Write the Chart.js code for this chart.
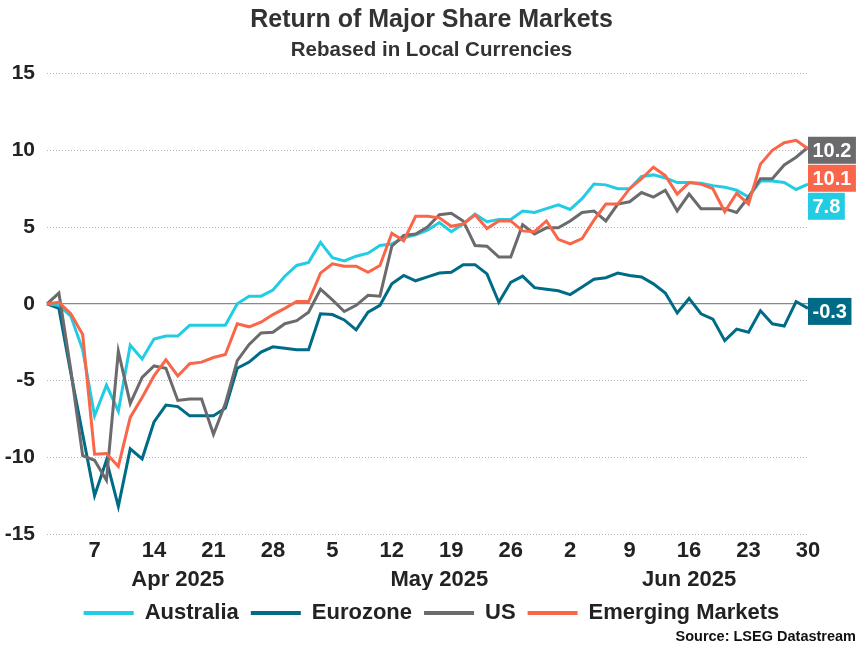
<!DOCTYPE html>
<html>
<head>
<meta charset="utf-8">
<script src="https://cdn.jsdelivr.net/npm/chart.js@4.4.1/dist/chart.umd.min.js"></script>
<style>
  html, body { margin: 0; padding: 0; background: #fff; }
  #wrap { width: 863px; height: 646px; }
</style>
</head>
<body>
<div id="wrap"><canvas id="chart"></canvas></div>
<script>
const dates = [
  '2025-04-01','2025-04-02','2025-04-03','2025-04-04','2025-04-07','2025-04-08','2025-04-09','2025-04-10','2025-04-11',
  '2025-04-14','2025-04-15','2025-04-16','2025-04-17','2025-04-18','2025-04-21','2025-04-22','2025-04-23','2025-04-24',
  '2025-04-25','2025-04-28','2025-04-29','2025-04-30',
  '2025-05-01','2025-05-02','2025-05-05','2025-05-06','2025-05-07','2025-05-08','2025-05-09','2025-05-12','2025-05-13',
  '2025-05-14','2025-05-15','2025-05-16','2025-05-19','2025-05-20','2025-05-21','2025-05-22','2025-05-23','2025-05-26',
  '2025-05-27','2025-05-28','2025-05-29','2025-05-30',
  '2025-06-02','2025-06-03','2025-06-04','2025-06-05','2025-06-06','2025-06-09','2025-06-10','2025-06-11','2025-06-12',
  '2025-06-13','2025-06-16','2025-06-17','2025-06-18','2025-06-19','2025-06-20','2025-06-23','2025-06-24','2025-06-25',
  '2025-06-26','2025-06-27','2025-06-30'
];
const tickDates = ['2025-04-07','2025-04-14','2025-04-21','2025-04-28','2025-05-05','2025-05-12','2025-05-19',
  '2025-05-26','2025-06-02','2025-06-09','2025-06-16','2025-06-23','2025-06-30'];
const monthLabels = ['Apr 2025', 'May 2025', 'Jun 2025'];
const monthLabelDates = ['2025-04-16', '2025-05-16', '2025-06-16'];

const seriesNames = ['Australia', 'Eurozone', 'US', 'Emerging Markets'];
const australia = [0, -0.1, -0.8, -3.0, -7.3, -5.3, -7.0, -2.7, -3.6, -2.3, -2.1, -2.1, -1.4, -1.4, -1.4, -1.4,
  0.0, 0.5, 0.5, 0.9, 1.8, 2.5, 2.7, 4.0, 3.0, 2.8, 3.1, 3.3, 3.8, 3.9, 4.3, 4.5, 4.8, 5.3, 4.7, 5.2, 5.85,
  5.35, 5.5, 5.5, 6.05, 5.95, 6.2, 6.45, 6.15, 6.85, 7.8, 7.75, 7.5, 7.5, 8.3, 8.4, 8.2, 7.9, 7.9, 7.85, 7.7,
  7.6, 7.4, 6.95, 8.0, 8.0, 7.9, 7.45, 7.8];
const eurozone = [0, -0.3, -4.5, -8.5, -12.5, -10.2, -13.2, -9.45, -10.1, -7.7, -6.6, -6.7, -7.3, -7.3, -7.3, -6.8,
  -4.2, -3.8, -3.15, -2.8, -2.9, -3.0, -3.0, -0.65, -0.7, -1.05, -1.7, -0.55, -0.1, 1.3, 1.85, 1.5, 1.75, 2.0,
  2.05, 2.55, 2.55, 1.95, 0.1, 1.4, 1.8, 1.05, 0.95, 0.85, 0.6, 1.1, 1.6, 1.7, 2.0, 1.85, 1.75, 1.3, 0.7, -0.6,
  0.35, -0.65, -1.0, -2.4, -1.65, -1.85, -0.45, -1.3, -1.45, 0.15, -0.3];
const us = [0, 0.7, -4.3, -9.9, -10.2, -11.5, -3.1, -6.5, -4.8, -4.05, -4.2, -6.3, -6.2, -6.2, -8.5, -6.5,
  -3.7, -2.65, -1.9, -1.85, -1.3, -1.1, -0.55, 0.95, 0.25, -0.5, -0.1, 0.55, 0.5, 3.75, 4.45, 4.55, 5.0, 5.8,
  5.9, 5.4, 3.8, 3.75, 3.05, 3.05, 5.15, 4.55, 4.95, 4.95, 5.4, 5.95, 6.05, 5.4, 6.5, 6.65, 7.25, 6.95, 7.4,
  6.05, 7.15, 6.2, 6.2, 6.2, 5.95, 6.95, 8.15, 8.15, 9.05, 9.55, 10.2];
const emerging = [0, 0.1, -0.65, -2.0, -9.8, -9.75, -10.6, -7.4, -6.1, -4.7, -3.65, -4.7, -3.9, -3.8, -3.5, -3.3,
  -1.3, -1.5, -1.2, -0.7, -0.3, 0.15, 0.15, 2.0, 2.6, 2.45, 2.45, 2.05, 2.5, 4.6, 4.1, 5.7, 5.7, 5.6, 5.05,
  5.2, 5.8, 4.9, 5.4, 5.4, 4.75, 4.7, 5.4, 4.2, 3.9, 4.25, 5.45, 6.5, 6.5, 7.5, 8.15, 8.9, 8.35, 7.15, 7.9,
  7.8, 7.5, 6.0, 7.2, 6.5, 9.1, 10.0, 10.5, 10.65, 10.1];

const colours = ['#22CCE2', '#006B87', '#6B6B6E', '#F9664A'];
const FONT = '"Liberation Sans", Arial, sans-serif';

Chart.defaults.font.family = FONT;
Chart.defaults.color = '#222';

// boxes with the last value at the right end of each line
const endLabels = {
  id: 'endLabels',
  afterDatasetsDraw(chart) {
    const { ctx, chartArea, scales } = chart;
    const items = chart.data.datasets.map(ds => {
      const v = ds.data[ds.data.length - 1];
      return { v, color: ds.borderColor, y: scales.y.getPixelForValue(v) };
    }).sort((a, b) => a.y - b.y);
    const h = 27;
    let prev = -1e9;
    ctx.save();
    ctx.font = 'bold 20px ' + FONT;
    ctx.textBaseline = 'middle';
    items.forEach(it => {
      const y = Math.max(it.y + 3, prev + h + 1);
      prev = y;
      const txt = it.v.toFixed(1);
      const w = ctx.measureText(txt).width + 9;
      ctx.fillStyle = it.color;
      ctx.fillRect(chartArea.right, y - h / 2, w, h);
      ctx.fillStyle = '#fff';
      ctx.fillText(txt, chartArea.right + 4.5, y + 1);
    });
    ctx.restore();
  },
  afterDraw(chart) {
    const { ctx } = chart;
    ctx.save();
    ctx.font = 'bold 14.5px ' + FONT;
    ctx.fillStyle = '#111';
    ctx.textAlign = 'right';
    ctx.textBaseline = 'middle';
    ctx.fillText('Source: LSEG Datastream', 856, 637);
    ctx.restore();
  }
};

const allSeries = [australia, eurozone, us, emerging];
const drawOrder = [2, 3, 1, 0];

new Chart(document.getElementById('chart'), {
  type: 'line',
  data: {
    labels: dates,
    datasets: allSeries.map((vals, i) => ({
      label: seriesNames[i],
      data: vals,
      borderColor: colours[i],
      backgroundColor: colours[i],
      borderWidth: 3,
      pointRadius: 0,
      tension: 0,
      order: drawOrder[i]
    }))
  },
  options: {
    responsive: true,
    maintainAspectRatio: false,
    animation: false,
    layout: { padding: { left: 0, right: 0, top: 0, bottom: 12 } },
    plugins: {
      title: {
        display: true,
        text: 'Return of Major Share Markets',
        font: { size: 25, weight: 'bold' },
        color: '#333',
        padding: { top: 5, bottom: 2 }
      },
      subtitle: {
        display: true,
        text: 'Rebased in Local Currencies',
        font: { size: 20.5, weight: 'bold' },
        color: '#333',
        padding: { top: 1, bottom: 11 }
      },
      legend: {
        position: 'bottom',
        align: 'center',
        labels: {
          boxWidth: 50,
          boxHeight: 4,
          padding: 12,
          font: { size: 22, weight: 'bold' },
          color: '#222',
          sort: (a, b) => a.datasetIndex - b.datasetIndex,
          generateLabels(chart) {
            return Chart.defaults.plugins.legend.labels.generateLabels(chart)
              .map(item => Object.assign(item, { lineWidth: 0 }));
          }
        }
      },
      tooltip: { enabled: false }
    },
    scales: {
      x: {
        grid: { display: false, drawTicks: false },
        border: { display: false },
        afterFit(s) { s.height = 29; },
        ticks: {
          autoSkip: false,
          maxRotation: 0,
          padding: 4,
          font: { size: 22, weight: 'bold' },
          callback(value) {
            const d = dates[value];
            return tickDates.includes(d) ? String(Number(d.slice(8))) : '';
          }
        }
      },
      x2: {
        type: 'category',
        position: 'bottom',
        grid: { display: false, drawTicks: false },
        border: { display: false },
        afterFit(s) { s.height = 27; },
        ticks: {
          autoSkip: false,
          maxRotation: 0,
          padding: 4,
          font: { size: 22, weight: 'bold' },
          callback(value) {
            const k = monthLabelDates.indexOf(dates[value]);
            return k >= 0 ? monthLabels[k] : '';
          }
        }
      },
      y: {
        min: -15,
        max: 15,
        afterFit(s) { s.width = 47; },
        border: {
          display: false,
          dash: ctx => (ctx.tick && ctx.tick.value === 0 ? [] : [1, 2])
        },
        grid: {
          drawTicks: false,
          color: ctx => (ctx.tick && ctx.tick.value === 0 ? '#8a8a8a' : '#b4b4b4'),
          lineWidth: ctx => (ctx.tick && ctx.tick.value === 0 ? 1.3 : 1)
        },
        ticks: {
          stepSize: 5,
          padding: 12,
          font: { size: 21, weight: 'bold' }
        }
      },
      // empty right axis: keeps room for the value boxes
      yRight: {
        position: 'right',
        grid: { display: false, drawTicks: false },
        border: { display: false },
        ticks: { display: false },
        afterFit(s) { s.width = 55; }
      }
    }
  },
  plugins: [endLabels]
});
</script>
</body>
</html>
